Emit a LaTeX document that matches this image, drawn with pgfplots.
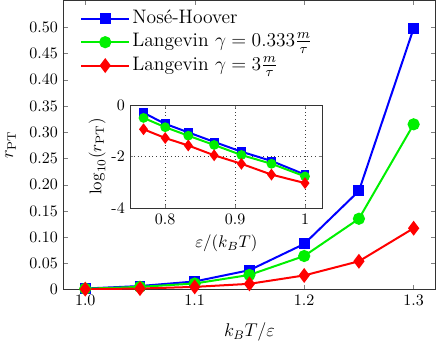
\RequirePackage{fix-cm}
\documentclass[border=0pt]{standalone}
\usepackage{pgfplots}
\pgfplotsset{compat=1.18}

\definecolor{nhblue}{RGB}{0,0,255}
\definecolor{lgreen}{RGB}{0,240,0}
\definecolor{lred}{RGB}{255,0,0}

% r_PT against k_B T / epsilon
\pgfplotstableread{
T     nh      lg033   lg3
1.00  0.0020  0.0017  0.0009
1.05  0.0068  0.0052  0.0020
1.10  0.0155  0.0116  0.0052
1.15  0.0370  0.0280  0.0110
1.20  0.0870  0.0640  0.0270
1.25  0.1880  0.1350  0.0540
1.30  0.4980  0.3150  0.1170
}\maintable

% log10(r_PT) against epsilon / (k_B T)
\pgfplotstableread{
invT   nh     lg033  lg3
0.769  -0.30  -0.50  -0.94
0.800  -0.73  -0.86  -1.28
0.833  -1.06  -1.19  -1.57
0.870  -1.43  -1.55  -1.95
0.909  -1.81  -1.94  -2.28
0.952  -2.17  -2.28  -2.70
1.000  -2.70  -2.77  -3.03
}\insettable

\pgfplotsset{
  nh/.style={nhblue, line width=1.3pt, mark=square*, mark size=2.9pt},
  lgA/.style={lgreen, line width=1.3pt, mark=*, mark size=3.3pt},
  lgB/.style={lred, line width=1.3pt, mark=diamond*, mark size=3.8pt},
}

\begin{document}
\begin{tikzpicture}
\begin{axis}[
    name=main,
    scale only axis,
    width=242pt, height=188pt,
    xmin=0.98, xmax=1.32,
    ymin=0, ymax=0.551,
    xtick={1.0,1.1,1.2,1.3},
    xticklabels={1.0,1.1,1.2,1.3},
    ytick={0,0.05,0.1,0.15,0.2,0.25,0.3,0.35,0.4,0.45,0.5},
    yticklabels={0,0.05,0.10,0.15,0.20,0.25,0.30,0.35,0.40,0.45,0.50},
    tick label style={font=\fontsize{10.4}{12}\selectfont},
    label style={font=\fontsize{12}{14}\selectfont},
    tick align=inside,
    major tick length=3pt,
    axis line style={black!80, line width=0.6pt},
    xlabel={$k_BT/\varepsilon$},
    ylabel={$r_{\mathrm{PT}}$},
    xlabel style={yshift=-4pt},
    ylabel style={yshift=2pt},
    legend style={draw=none, fill=none, at={(0.045,0.978)}, anchor=north west,
      inner sep=0pt, row sep=0pt, font=\fontsize{12.7}{14}\selectfont,
      nodes={inner sep=1.5pt, text height=9pt, text depth=3.2pt}},
    legend cell align=left,
    legend image code/.code={\draw[mark repeat=2, mark phase=2]
      plot coordinates {(0pt,0pt) (15.5pt,0pt) (31pt,0pt)};},
]
\addplot[nh]  table[x=T, y=nh]    {\maintable};
\addlegendentry{Nos\'e-Hoover}
\addplot[lgA] table[x=T, y=lg033] {\maintable};
\addlegendentry{Langevin $\gamma=0.333\frac{m}{\tau}$}
\addplot[lgB] table[x=T, y=lg3]   {\maintable};
\addlegendentry{Langevin $\gamma=3\frac{m}{\tau}$}
\end{axis}

\begin{axis}[
    at={(main.north west)}, anchor=north west,
    xshift=43.5pt, yshift=-68pt,
    scale only axis,
    width=125pt, height=67pt,
    xmin=0.75, xmax=1.025,
    ymin=-4, ymax=0,
    xtick={0.8,0.9,1}, xticklabels={0.8,0.9,1},
    ytick={-4,-2,0}, yticklabels={-4,-2,0},
    tick label style={font=\fontsize{10.4}{12}\selectfont},
    label style={font=\fontsize{11}{13}\selectfont},
    tick align=inside,
    major tick length=2pt,
    grid=major,
    grid style={black!75, dotted, line width=0.5pt},
    axis line style={black!80, line width=0.6pt},
    axis background/.style={fill=white},
    xlabel={$\varepsilon/(k_BT)$},
    ylabel={$\log_{10}(r_{\mathrm{PT}})$},
    xlabel style={yshift=0pt},
    ylabel style={yshift=-3pt},
]
\addplot[nh, mark size=2.2pt]  table[x=invT, y=nh]    {\insettable};
\addplot[lgA, mark size=2.5pt] table[x=invT, y=lg033] {\insettable};
\addplot[lgB, mark size=2.8pt] table[x=invT, y=lg3]   {\insettable};
\end{axis}
\end{tikzpicture}
\end{document}
